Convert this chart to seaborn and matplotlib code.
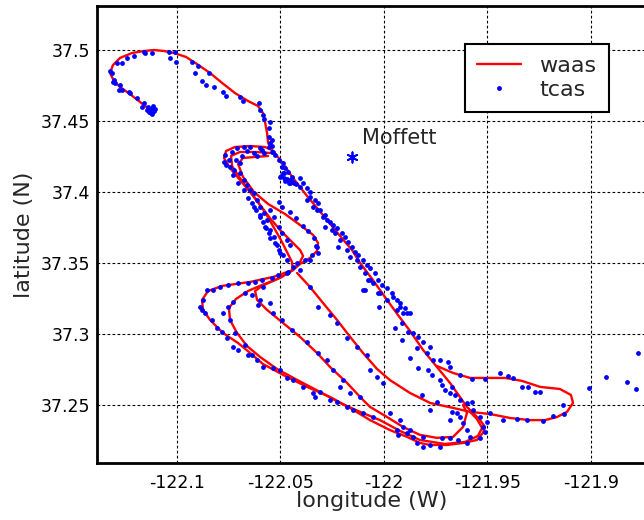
import matplotlib
matplotlib.use("Agg")
import matplotlib.pyplot as plt
from matplotlib.lines import Line2D
import seaborn as sns
import pandas as pd

# ---------------- data (longitude, latitude) ----------------
# WAAS track in several continuous pieces
waas_hook = [
    (-122.1129, 37.4578), (-122.1177, 37.4634), (-122.1226, 37.4690), (-122.1274, 37.4740),
    (-122.1303, 37.4782), (-122.1322, 37.4838), (-122.1308, 37.4894), (-122.1274, 37.4944),
    (-122.1216, 37.4979), (-122.1158, 37.4993), (-122.1110, 37.5000), (-122.1061, 37.4993),
    (-122.1013, 37.4979), (-122.0955, 37.4951), (-122.0902, 37.4901), (-122.0839, 37.4838),
    (-122.0781, 37.4768), (-122.0719, 37.4697), (-122.0656, 37.4641), (-122.0608, 37.4606),
    (-122.0584, 37.4557), (-122.0574, 37.4493), (-122.0564, 37.4416), (-122.0559, 37.4345),
    (-122.0540, 37.4296),
]
waas_main = [
    (-122.0540, 37.4296), (-122.0492, 37.4212), (-122.0439, 37.4099), (-122.0371, 37.3972),
    (-122.0294, 37.3838), (-122.0212, 37.3691), (-122.0154, 37.3592), (-122.0115, 37.3501),
    (-122.0057, 37.3388), (-121.9995, 37.3261), (-121.9932, 37.3134), (-121.9874, 37.3022),
    (-121.9811, 37.2888), (-121.9744, 37.2768), (-121.9681, 37.2656), (-121.9633, 37.2557),
    (-121.9599, 37.2487), (-121.9570, 37.2445), (-121.9536, 37.2395), (-121.9512, 37.2346),
    (-121.9522, 37.2304), (-121.9551, 37.2254), (-121.9618, 37.2233), (-121.9695, 37.2219),
    (-121.9777, 37.2219), (-121.9826, 37.2233), (-121.9888, 37.2276), (-121.9971, 37.2324),
    (-122.0067, 37.2394), (-122.0164, 37.2480), (-122.0260, 37.2557), (-122.0371, 37.2628),
    (-122.0468, 37.2698), (-122.0584, 37.2789), (-122.0646, 37.2867), (-122.0704, 37.2937),
    (-122.0777, 37.3008), (-122.0839, 37.3099), (-122.0873, 37.3170), (-122.0878, 37.3240),
    (-122.0849, 37.3303), (-122.0781, 37.3339), (-122.0646, 37.3367), (-122.0535, 37.3402),
    (-122.0439, 37.3451), (-122.0405, 37.3508), (-122.0390, 37.3550), (-122.0405, 37.3592),
    (-122.0453, 37.3662), (-122.0501, 37.3733), (-122.0550, 37.3817), (-122.0598, 37.3909),
    (-122.0646, 37.4000), (-122.0695, 37.4085), (-122.0743, 37.4169), (-122.0772, 37.4240),
    (-122.0762, 37.4289), (-122.0719, 37.4317), (-122.0646, 37.4324), (-122.0574, 37.4317),
    (-122.0540, 37.4296),
]
waas_loop2 = [
    (-122.0550, 37.4275), (-122.0622, 37.4282), (-122.0695, 37.4282), (-122.0738, 37.4254),
    (-122.0733, 37.4183), (-122.0695, 37.4099), (-122.0651, 37.4014), (-122.0608, 37.3930),
    (-122.0569, 37.3845), (-122.0530, 37.3747), (-122.0497, 37.3662), (-122.0468, 37.3578),
    (-122.0444, 37.3508), (-122.0439, 37.3451), (-122.0501, 37.3395), (-122.0588, 37.3346),
    (-122.0656, 37.3303), (-122.0714, 37.3247), (-122.0748, 37.3184), (-122.0743, 37.3099),
    (-122.0709, 37.3008), (-122.0661, 37.2916), (-122.0598, 37.2839), (-122.0516, 37.2754),
    (-122.0419, 37.2677), (-122.0308, 37.2592), (-122.0212, 37.2515), (-122.0115, 37.2452),
    (-122.0019, 37.2394), (-121.9922, 37.2318), (-121.9826, 37.2254), (-121.9705, 37.2226),
    (-121.9608, 37.2240), (-121.9546, 37.2283), (-121.9526, 37.2339), (-121.9551, 37.2402),
    (-121.9584, 37.2452),
]
waas_loop3 = [
    (-122.0559, 37.4254), (-122.0622, 37.4247), (-122.0680, 37.4240), (-122.0704, 37.4197),
    (-122.0680, 37.4106), (-122.0627, 37.4000), (-122.0559, 37.3916), (-122.0477, 37.3845),
    (-122.0405, 37.3768), (-122.0342, 37.3698), (-122.0318, 37.3641), (-122.0323, 37.3585),
    (-122.0357, 37.3536), (-122.0405, 37.3493), (-122.0439, 37.3451), (-122.0526, 37.3380),
    (-122.0588, 37.3339), (-122.0622, 37.3303), (-122.0612, 37.3240), (-122.0564, 37.3170),
    (-122.0487, 37.3078), (-122.0405, 37.2980), (-122.0323, 37.2867), (-122.0260, 37.2768),
    (-122.0178, 37.2656), (-122.0115, 37.2557), (-122.0067, 37.2487), (-121.9985, 37.2416),
    (-121.9908, 37.2346), (-121.9826, 37.2290), (-121.9744, 37.2269), (-121.9666, 37.2276),
    (-121.9618, 37.2346), (-121.9599, 37.2445), (-121.9618, 37.2501),
]
waas_east = [
    (-122.0419, 37.3430), (-122.0357, 37.3332), (-122.0294, 37.3219), (-122.0226, 37.3099),
    (-122.0163, 37.2980), (-122.0101, 37.2867), (-122.0033, 37.2754), (-121.9971, 37.2676),
    (-121.9874, 37.2585), (-121.9777, 37.2515), (-121.9666, 37.2480), (-121.9584, 37.2452),
    (-121.9488, 37.2437), (-121.9391, 37.2409), (-121.9295, 37.2394), (-121.9222, 37.2394),
    (-121.9164, 37.2416), (-121.9116, 37.2452), (-121.9087, 37.2515), (-121.9097, 37.2571),
    (-121.9150, 37.2613), (-121.9246, 37.2628), (-121.9333, 37.2670), (-121.9415, 37.2691),
    (-121.9512, 37.2691), (-121.9584, 37.2691), (-121.9666, 37.2726), (-121.9744, 37.2775),
]

# TCAS position reports
tcas_hook = [
    (-122.1139, 37.4599), (-122.1129, 37.4577), (-122.1119, 37.4592), (-122.1110, 37.4570),
    (-122.1124, 37.4556), (-122.1134, 37.4563), (-122.1114, 37.4606), (-122.1105, 37.4584),
    (-122.1143, 37.4577), (-122.1119, 37.4549),
    (-122.1322, 37.4852), (-122.1312, 37.4838), (-122.1303, 37.4789), (-122.1308, 37.4775),
    (-122.1298, 37.4768), (-122.1274, 37.4754), (-122.1279, 37.4718), (-122.1264, 37.4718),
    (-122.1230, 37.4704), (-122.1225, 37.4697), (-122.1192, 37.4662), (-122.1158, 37.4627),
    (-122.1167, 37.4599), (-122.1288, 37.4908), (-122.1264, 37.4908), (-122.1240, 37.4944),
    (-122.1206, 37.4958), (-122.1158, 37.4986), (-122.1153, 37.4979), (-122.1119, 37.4979),
    (-122.1037, 37.4986), (-122.1008, 37.4986), (-122.1032, 37.4944), (-122.1003, 37.4916),
    (-122.0926, 37.4916), (-122.0897, 37.4887), (-122.0911, 37.4838), (-122.0843, 37.4838),
    (-122.0878, 37.4782), (-122.0858, 37.4754), (-122.0820, 37.4740), (-122.0776, 37.4704),
    (-122.0762, 37.4676), (-122.0695, 37.4669), (-122.0680, 37.4641), (-122.0603, 37.4627),
    (-122.0598, 37.4577), (-122.0584, 37.4542), (-122.0579, 37.4514), (-122.0550, 37.4493),
    (-122.0555, 37.4451), (-122.0555, 37.4387), (-122.0540, 37.4366), (-122.0540, 37.4324),
    (-122.0535, 37.4282),
]
tcas_loops = [
    (-122.0767, 37.4261), (-122.0748, 37.4225), (-122.0772, 37.4211), (-122.0743, 37.4176),
    (-122.0723, 37.4155), (-122.0733, 37.4282), (-122.0709, 37.4310), (-122.0675, 37.4317),
    (-122.0646, 37.4317), (-122.0627, 37.4275), (-122.0598, 37.4310), (-122.0579, 37.4275),
    (-122.0555, 37.4317), (-122.0550, 37.4345), (-122.0540, 37.4282), (-122.0526, 37.4261),
    (-122.0506, 37.4225), (-122.0492, 37.4176), (-122.0482, 37.4134), (-122.0468, 37.4085),
    (-122.0453, 37.4064), (-122.0434, 37.4064), (-122.0501, 37.4106), (-122.0694, 37.4134),
    (-122.0675, 37.4085), (-122.0661, 37.4049), (-122.0646, 37.4014), (-122.0627, 37.3993),
    (-122.0612, 37.3944), (-122.0598, 37.3894), (-122.0579, 37.3852), (-122.0564, 37.3803),
    (-122.0550, 37.3732), (-122.0530, 37.3683), (-122.0516, 37.3627), (-122.0501, 37.3571),
    (-122.0550, 37.3873), (-122.0530, 37.3824), (-122.0506, 37.3754), (-122.0492, 37.3711),
    (-122.0468, 37.3662), (-122.0453, 37.3627), (-122.0627, 37.3894), (-122.0598, 37.3824),
    (-122.0574, 37.3754), (-122.0555, 37.3711), (-122.0694, 37.4204), (-122.0506, 37.3930),
    (-122.0492, 37.3894),
    (-122.0497, 37.4113), (-122.0482, 37.4099), (-122.0468, 37.4092), (-122.0453, 37.4085),
    (-122.0439, 37.4070), (-122.0477, 37.4077), (-122.0458, 37.4063), (-122.0424, 37.4056),
    (-122.0487, 37.4134), (-122.0443, 37.4106),
    (-122.0762, 37.4190), (-122.0728, 37.4120), (-122.0704, 37.4064), (-122.0675, 37.4014),
    (-122.0656, 37.3958), (-122.0637, 37.3923), (-122.0617, 37.3874), (-122.0598, 37.3838),
    (-122.0584, 37.3789), (-122.0569, 37.3747), (-122.0550, 37.3676), (-122.0526, 37.3641),
    (-122.0506, 37.3592), (-122.0487, 37.3557), (-122.0468, 37.3522),
    (-122.0453, 37.3860), (-122.0424, 37.3817), (-122.0390, 37.3761), (-122.0366, 37.3726),
    (-122.0337, 37.3676), (-122.0328, 37.3620), (-122.0347, 37.3557), (-122.0381, 37.3522),
    (-122.0661, 37.4289), (-122.0612, 37.4254), (-122.0588, 37.4296), (-122.0685, 37.4254),
    (-122.0714, 37.4226),
]
tcas_diagonal = [
    (-122.0405, 37.4035), (-122.0371, 37.3944), (-122.0356, 37.3965), (-122.0342, 37.3894),
    (-122.0323, 37.3873), (-122.0294, 37.3824), (-122.0274, 37.3803), (-122.0284, 37.3754),
    (-122.0250, 37.3732), (-122.0236, 37.3711), (-122.0212, 37.3662), (-122.0221, 37.3613),
    (-122.0178, 37.3592), (-122.0163, 37.3542), (-122.0130, 37.3521), (-122.0115, 37.3472),
    (-122.0091, 37.3430), (-122.0101, 37.3310), (-122.0077, 37.3380), (-122.0053, 37.3359),
    (-122.0019, 37.3289), (-121.9985, 37.3239), (-121.9956, 37.3261), (-121.9922, 37.3190),
    (-121.9888, 37.3148), (-122.0067, 37.3380), (-122.0091, 37.3310), (-122.0029, 37.3289),
    (-122.0024, 37.3190), (-121.9937, 37.3169), (-121.9908, 37.3148), (-121.9946, 37.3042),
    (-121.9913, 37.3077), (-121.9884, 37.3014), (-121.9860, 37.3007), (-121.9836, 37.2979),
    (-121.9913, 37.2958), (-121.9812, 37.2944), (-121.9874, 37.2831), (-121.9840, 37.2901),
    (-121.9778, 37.2908), (-121.9792, 37.2866), (-121.9763, 37.2817), (-121.9729, 37.2817),
    (-121.9836, 37.2761), (-121.9787, 37.2747), (-121.9768, 37.2711), (-121.9729, 37.2676),
    (-121.9690, 37.2803), (-121.9681, 37.2768), (-121.9720, 37.2641), (-121.9705, 37.2606),
    (-121.9671, 37.2627), (-121.9657, 37.2571), (-121.9633, 37.2535), (-121.9599, 37.2514),
    (-121.9575, 37.2521),
    (-122.0487, 37.4204), (-122.0477, 37.4169), (-122.0463, 37.4141), (-122.0405, 37.4099),
    (-122.0390, 37.4064), (-122.0371, 37.4029), (-122.0357, 37.4000), (-122.0332, 37.3944),
    (-122.0318, 37.3923), (-122.0308, 37.3874), (-122.0284, 37.3838), (-122.0260, 37.3789),
    (-122.0246, 37.3768), (-122.0226, 37.3747), (-122.0202, 37.3712), (-122.0188, 37.3684),
    (-122.0173, 37.3648), (-122.0154, 37.3613), (-122.0140, 37.3578), (-122.0125, 37.3557),
    (-122.0101, 37.3522), (-122.0082, 37.3486), (-122.0067, 37.3465), (-122.0043, 37.3430),
    (-122.0028, 37.3381), (-122.0009, 37.3346), (-121.9985, 37.3324), (-121.9961, 37.3289),
    (-121.9937, 37.3240), (-121.9922, 37.3219), (-121.9898, 37.3184), (-121.9874, 37.3148),
]
tcas_east = [
    (-121.9632, 37.2711), (-121.9439, 37.2725), (-121.9400, 37.2704), (-121.9376, 37.2690),
    (-121.9333, 37.2627), (-121.9304, 37.2627), (-121.9270, 37.2592), (-121.9246, 37.2592),
    (-121.9135, 37.2500), (-121.9130, 37.2437), (-121.9183, 37.2423), (-121.9231, 37.2387),
    (-121.9309, 37.2394), (-121.9357, 37.2401), (-121.9424, 37.2394), (-121.9487, 37.2444),
    (-121.9535, 37.2416), (-121.9511, 37.2683), (-121.9574, 37.2683),
    (-121.9010, 37.2620), (-121.8928, 37.2697), (-121.8827, 37.2662), (-121.8783, 37.2613),
    (-121.8774, 37.2866),
]
tcas_bottom = [
    (-121.9908, 37.2345), (-121.9874, 37.2324), (-121.9840, 37.2232), (-121.9811, 37.2204),
    (-121.9777, 37.2218), (-121.9729, 37.2204), (-121.9719, 37.2268), (-121.9681, 37.2268),
    (-121.9642, 37.2254), (-121.9599, 37.2232), (-121.9584, 37.2275), (-121.9535, 37.2268),
    (-121.9511, 37.2310), (-121.9521, 37.2345), (-121.9501, 37.2380), (-121.9599, 37.2324),
    (-121.9618, 37.2373), (-121.9647, 37.2444), (-121.9633, 37.2416), (-121.9681, 37.2394),
    (-121.9671, 37.2451), (-121.9922, 37.2394), (-121.9970, 37.2444), (-121.9936, 37.2324),
    (-121.9932, 37.2289), (-121.9888, 37.2303), (-121.9860, 37.2275), (-121.9811, 37.2275),
    (-121.9815, 37.2570), (-121.9777, 37.2465), (-121.9743, 37.2521), (-121.9681, 37.2584),
    (-121.9569, 37.2465),
]
tcas_southwest = [
    (-122.0854, 37.3310), (-122.0825, 37.3310), (-122.0791, 37.3331), (-122.0752, 37.3345),
    (-122.0704, 37.3359), (-122.0656, 37.3359), (-122.0622, 37.3366), (-122.0589, 37.3380),
    (-122.0540, 37.3394), (-122.0511, 37.3415), (-122.0468, 37.3429), (-122.0873, 37.3239),
    (-122.0888, 37.3190), (-122.0878, 37.3169), (-122.0863, 37.3148), (-122.0829, 37.3099),
    (-122.0805, 37.3042), (-122.0781, 37.3014), (-122.0757, 37.2972), (-122.0728, 37.2908),
    (-122.0704, 37.2887), (-122.0656, 37.2852), (-122.0613, 37.2817), (-122.0584, 37.2768),
    (-122.0536, 37.2761), (-122.0502, 37.2747), (-122.0468, 37.2690), (-122.0439, 37.2676),
    (-122.0391, 37.2627), (-122.0343, 37.2585), (-122.0333, 37.2556), (-122.0309, 37.2592),
    (-122.0260, 37.2535), (-122.0227, 37.2521), (-122.0178, 37.2486), (-122.0149, 37.2465),
    (-122.0101, 37.2444), (-122.0053, 37.2415),
    (-122.0728, 37.3225), (-122.0752, 37.3190), (-122.0743, 37.3099), (-122.0718, 37.3007),
    (-122.0670, 37.2923), (-122.0636, 37.2852), (-122.0776, 37.3148), (-122.0608, 37.3204),
    (-122.0598, 37.3239), (-122.0636, 37.3275), (-122.0670, 37.3289),
    (-122.0492, 37.3099), (-122.0444, 37.3028), (-122.0371, 37.2944), (-122.0318, 37.2866),
    (-122.0275, 37.2817), (-122.0246, 37.2747), (-122.0197, 37.2676), (-122.0212, 37.2627),
    (-122.0163, 37.2585), (-122.0115, 37.2556), (-122.0584, 37.3331), (-122.0550, 37.3218),
    (-122.0536, 37.3148), (-122.0357, 37.3331), (-122.0318, 37.3190), (-122.0260, 37.3134),
    (-122.0227, 37.3077), (-122.0178, 37.2972), (-122.0130, 37.2908), (-122.0082, 37.2852),
    (-122.0067, 37.2746), (-122.0033, 37.2697), (-122.0004, 37.2655),
    (-122.0439, 37.3472), (-122.0419, 37.3500), (-122.0405, 37.3451), (-122.0463, 37.3437),
    (-122.0357, 37.3521), (-122.0323, 37.3613), (-122.0318, 37.3570),
]

moffett_lon, moffett_lat = -122.0154, 37.4247
moffett_label = "Moffett"

x_ticks = [-122.1, -122.05, -122.0, -121.95, -121.9]
x_tick_labels = ["-122.1", "-122.05", "-122", "-121.95", "-121.9"]
y_ticks = [37.25, 37.3, 37.35, 37.4, 37.45, 37.5]
y_tick_labels = ["37.25", "37.3", "37.35", "37.4", "37.45", "37.5"]

# ---------------- build tables ----------------
rows = []
for seg_id, seg in enumerate([waas_hook, waas_main, waas_loop2, waas_loop3, waas_east]):
    for lon, lat in seg:
        rows.append({"lon": lon, "lat": lat, "seg": seg_id})
waas_df = pd.DataFrame(rows)

tcas_all = tcas_hook + tcas_loops + tcas_diagonal + tcas_east + tcas_bottom + tcas_southwest
tcas_df = pd.DataFrame(tcas_all, columns=["lon", "lat"])

# ---------------- plot ----------------
sns.set_style("white")
plt.rcParams["font.family"] = ["DejaVu Sans"]

W, H = 644, 520
fig = plt.figure(figsize=(W / 100, H / 100), dpi=100)
ax = fig.add_axes([97 / W, 57 / H, 549 / W, 457 / H])

sns.lineplot(data=waas_df, x="lon", y="lat", units="seg", estimator=None, sort=False,
             color="red", linewidth=1.7, ax=ax, legend=False, zorder=2)
sns.scatterplot(data=tcas_df, x="lon", y="lat", color="blue", s=12, linewidth=0,
                ax=ax, legend=False, zorder=3)
sns.scatterplot(x=[moffett_lon], y=[moffett_lat], marker=(6, 2, 0), s=55,
                color="blue", linewidth=1.3, ax=ax, legend=False, zorder=3)
ax.text(-122.0106, 37.4380, moffett_label, fontsize=15, ha="left", va="center")

ax.set_xlim(-122.1385, -122.1385 + 549 / 2071.5)
ax.set_ylim(37.2092, 37.5310)
ax.set_xticks(x_ticks)
ax.set_xticklabels(x_tick_labels)
ax.set_yticks(y_ticks)
ax.set_yticklabels(y_tick_labels)
ax.tick_params(axis="both", length=0, labelsize=12.5, colors="black")
ax.tick_params(axis="x", pad=8)
ax.tick_params(axis="y", pad=5)

ax.grid(True, color="black", linestyle=(0, (2.5, 2)), linewidth=0.8)
ax.set_axisbelow(True)
for side in ["top", "left", "bottom", "right"]:
    ax.spines[side].set_visible(True)
    ax.spines[side].set_color("black")
    ax.spines[side].set_linewidth(2)

ax.set_xlabel("longitude (W)", fontsize=16, labelpad=-1)
ax.set_ylabel("latitude (N)", fontsize=16, labelpad=5)

h_waas = Line2D([], [], color="red", linewidth=1.7)
h_tcas = Line2D([], [], color="blue", marker="o", linestyle="none", markersize=3.5,
                markeredgewidth=0)
leg = ax.legend(handles=[h_waas, h_tcas], labels=["waas", "tcas"],
                loc="upper left", bbox_to_anchor=(465 / W, 1 - 44 / H),
                bbox_transform=fig.transFigure, frameon=True, fancybox=False,
                edgecolor="black", framealpha=1, fontsize=16, handlelength=1.95,
                handletextpad=0.85, labelspacing=0.15, borderpad=0.55, borderaxespad=0)
leg.get_frame().set_linewidth(1.5)

fig.savefig("out.png", dpi=100)
